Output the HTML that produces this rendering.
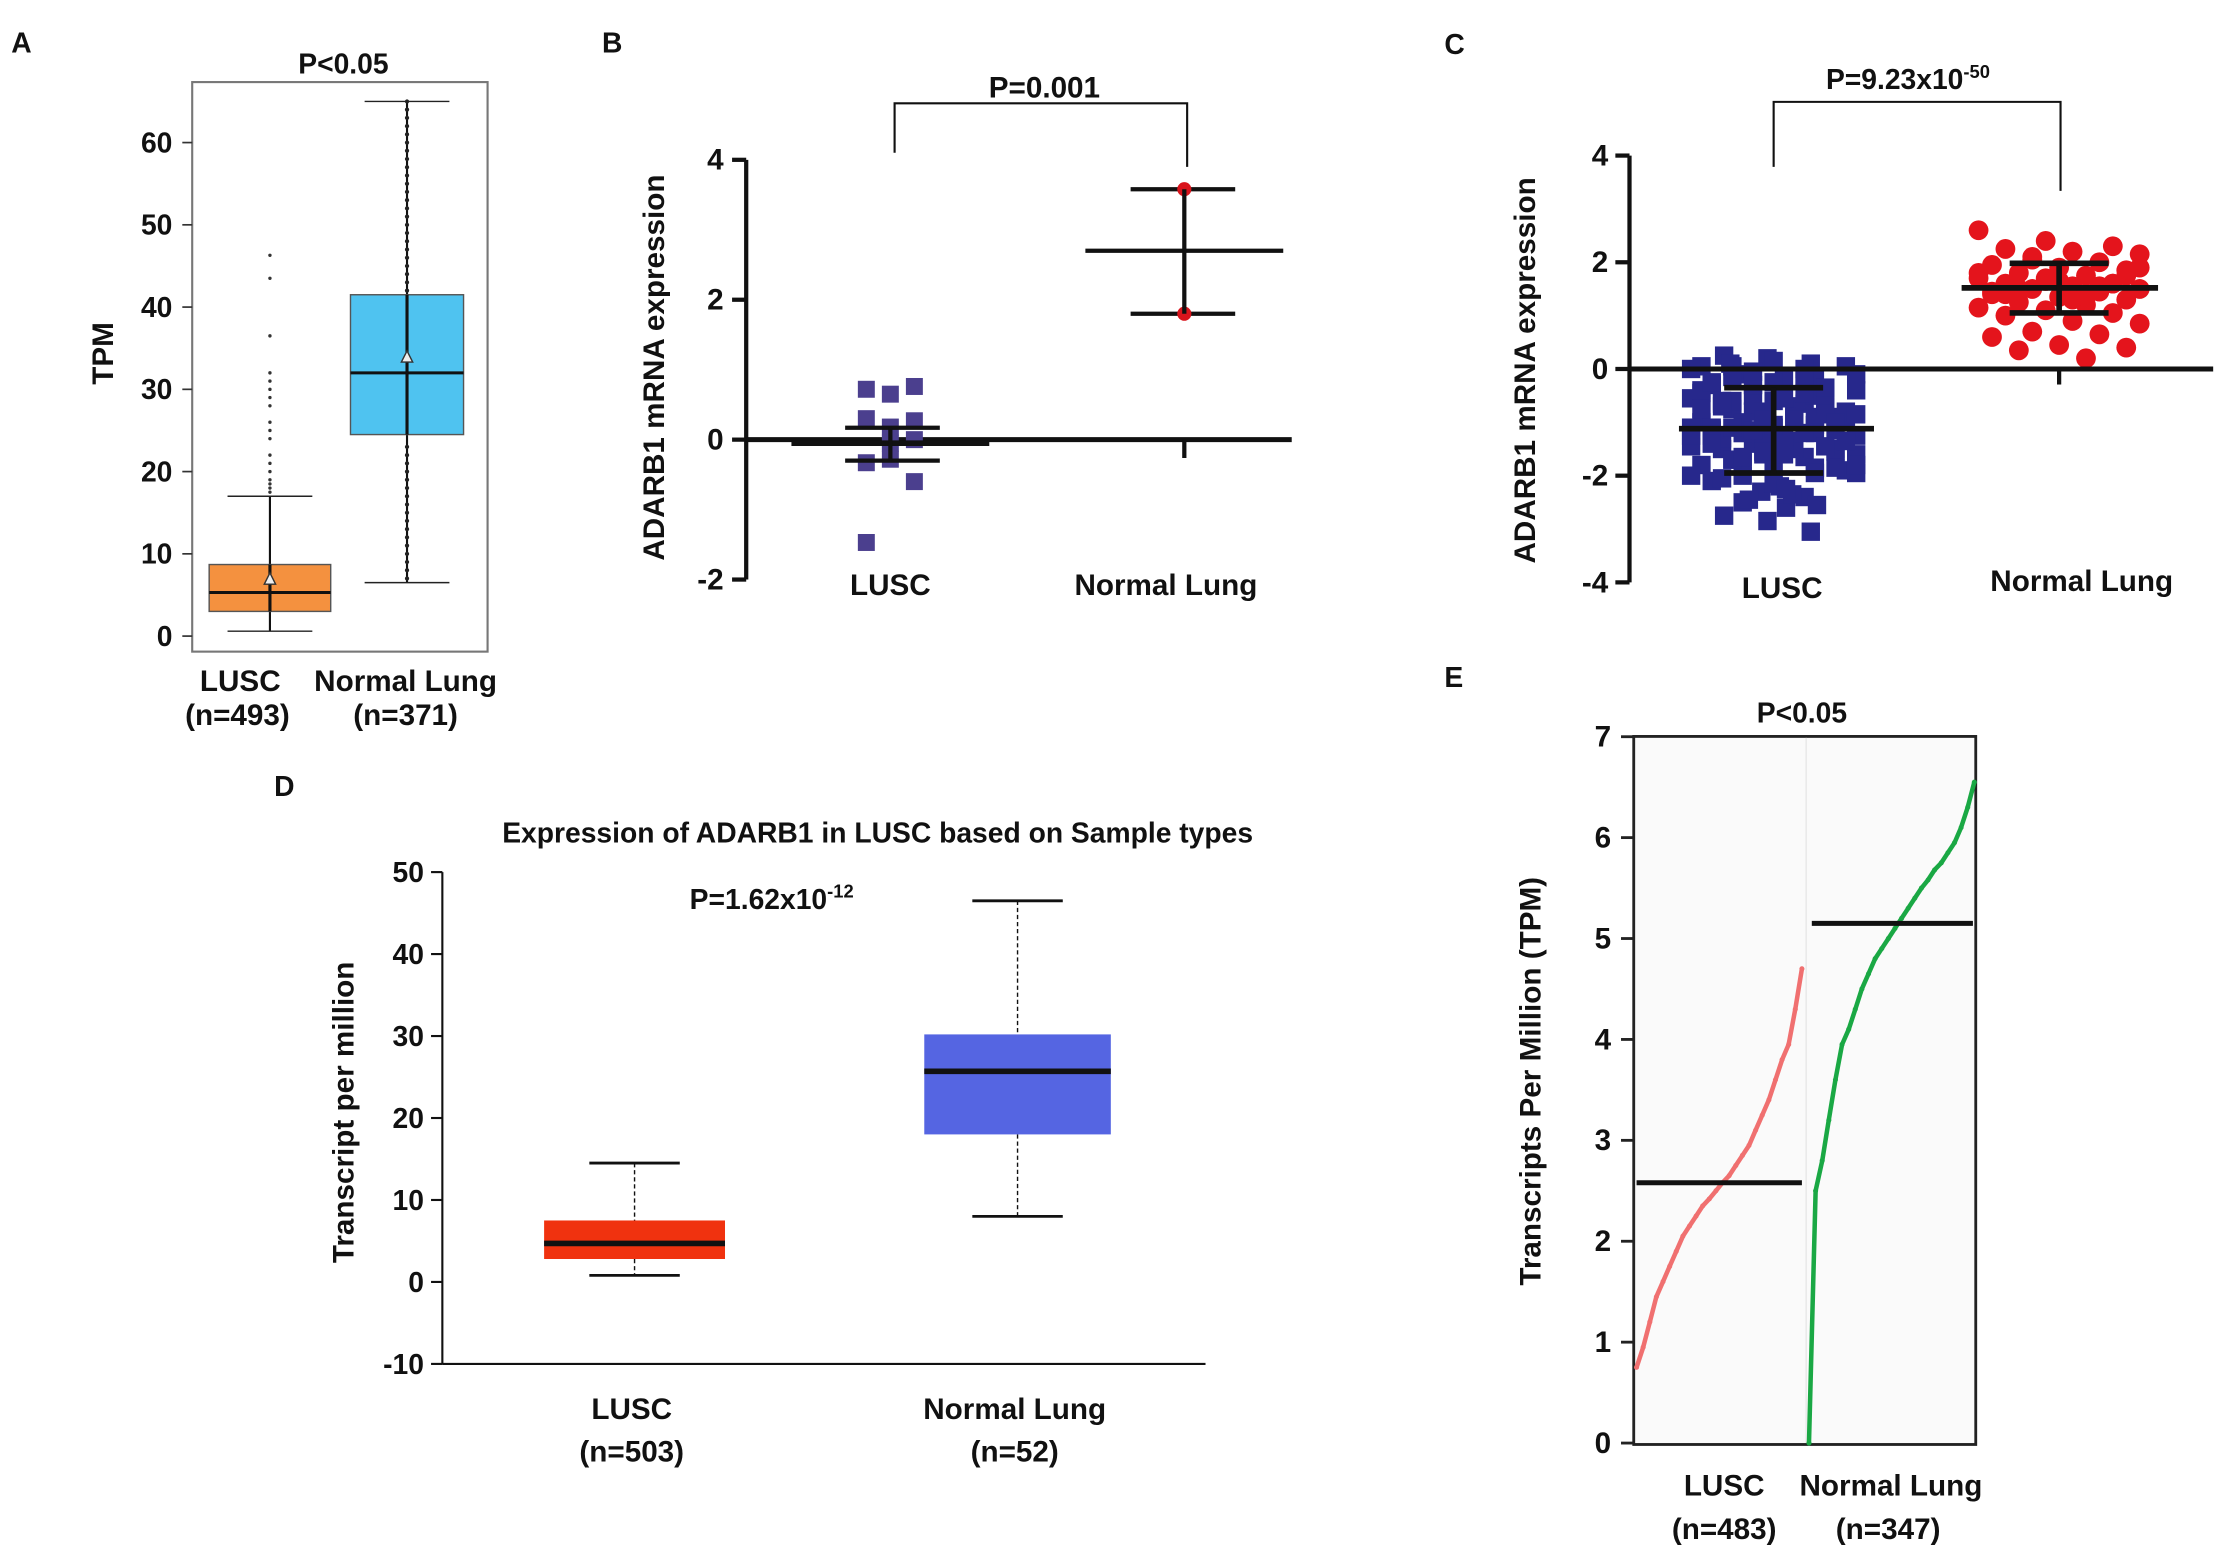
<!DOCTYPE html>
<html><head><meta charset="utf-8"><style>
html,body{margin:0;padding:0;background:#fff;}
svg{display:block;font-family:"Liberation Sans",Arial,sans-serif;font-weight:bold;}
</style></head><body>
<svg id="fig" width="2216" height="1552" viewBox="0 0 1568 1098" xmlns="http://www.w3.org/2000/svg"></svg>
<script>
// ---------- DATA ----------
// Panel A (TPM boxplot)
const aTicks = [0,10,20,30,40,50,60];
const aCats = ["LUSC","Normal Lung"];
const aN = ["(n=493)","(n=371)"];
const aQ1 = [3.0,24.5], aMed = [5.3,32.0], aQ3 = [8.7,41.5], aLo = [0.6,6.5], aHi = [17.0,65.0], aMean = [7.0,34.0];
const aOutLusc = [17.5,18,18.5,19,20,21,22,24,25,26,28,29,30,31,32,36.5,43.5,46.3];
const aOutNorm = [7,8,9,10,11,12,13,14,15,16,17,18,19,20,21,22,23,42,43,44,45,46,47,48,49,50,51,52,53,54,55,56,57,58,59,60,61,62,63,64,65];
// Panel B
const bTicks = [4,2,0,-2];
const bLusc = [0.72,0.65,0.76,0.3,0.18,0.27,-0.33,-0.05,-0.6,-1.47,-0.28,0.0];
const bLuscMean = -0.05, bLuscErr = [0.17,-0.3];
const bNormMean = 2.7, bNormErr = [3.58,1.8];
// Panel C
const cTicks = [4,2,0,-2,-4];
const cLusc = [0.25,0.2,0.1,0.05,0.0,0.1,0.15,0.05,-0.1,-0.2,-0.3,-0.15,-0.4,-0.5,-0.35,-0.6,-0.7,-0.55,-0.8,-0.9,-0.75,-0.65,-1.0,-1.1,-0.95,-1.2,-1.05,-1.15,-1.3,-1.25,-1.4,-0.85,-1.5,-1.35,-1.45,-1.6,-1.55,-1.7,-1.65,-1.8,-1.75,-1.9,-2.0,-1.85,-2.1,-2.2,-1.95,-2.3,-2.4,-2.5,-2.6,-2.75,-2.85,-3.05,-2.45,-2.35,-0.45,-0.25,-1.0,-1.2,-0.9,-1.1,-1.4,-1.6,-0.8,-0.7,-1.3,-1.5,-2.0,-1.05,-1.15,-0.6,-0.2,0.05,-2.15,-2.55,-1.75,-0.5,-1.25,-1.35,
 -0.1,-0.3,-0.5,-0.7,-0.9,-1.1,-1.3,-1.5,-1.7,-0.2,-0.4,-0.6,-0.8,-1.0,-1.2,-1.4,-1.6,-1.8,-0.05,-0.35,-0.65,-0.95,-1.25,-1.55,-1.85,-0.15,-0.45,-0.75,-1.05,-1.35,-1.65,-1.95,-0.25,-0.55,-0.85,-1.15,-1.45,-2.05,-2.25,-0.0,-0.95,-1.0,-1.1,-1.2];
const cNorm = [2.6,2.4,2.3,2.25,2.2,2.15,2.1,2.0,1.95,1.9,1.85,1.8,1.75,1.7,1.65,1.6,1.6,1.55,1.5,1.5,1.45,1.4,1.35,1.3,1.25,1.2,1.15,1.1,1.05,1.0,0.9,0.85,0.7,0.65,0.6,0.45,0.4,0.35,0.2,1.8,1.7,1.6,1.4,1.3,1.9,2.05,1.55,1.45,1.65,1.75,1.5,1.35];
const cLuscMean = -1.12, cLuscSD = [-0.35,-1.95];
const cNormMean = 1.52, cNormSD = [1.98,1.05];
// Panel D
const dTicks = [50,40,30,20,10,0,-10];
const dCats = ["LUSC","Normal Lung"];
const dN = ["(n=503)","(n=52)"];
const dQ1 = [2.8,18.0], dMed = [4.7,25.7], dQ3 = [7.5,30.2], dLo = [0.8,8.0], dHi = [14.5,46.5];
// Panel E (sorted sample quantiles)
const eTicks = [0,1,2,3,4,5,6,7];
const eLusc = [0.75,0.95,1.2,1.45,1.6,1.75,1.9,2.05,2.15,2.25,2.35,2.42,2.5,2.58,2.65,2.75,2.85,2.95,3.1,3.25,3.4,3.6,3.8,3.95,4.3,4.7];
const eNorm = [0.0,2.5,2.8,3.2,3.6,3.95,4.1,4.3,4.5,4.65,4.8,4.9,5.0,5.1,5.2,5.3,5.4,5.5,5.58,5.68,5.75,5.85,5.95,6.1,6.3,6.55];
const eMed = [2.58,5.15];

// ---------- HELPERS ----------
const NS="http://www.w3.org/2000/svg";
const svg=document.getElementById('fig');
function mk(tag,at,parent){const e=document.createElementNS(NS,tag);for(const k in at)e.setAttribute(k,at[k]);(parent||svg).appendChild(e);return e;}
function txt(x,y,s,size,anchor,parent,rot){const e=mk('text',{x:x,y:y,'font-size':size,'text-anchor':anchor||'middle',fill:'#111'},parent);if(rot)e.setAttribute('transform','rotate(-90 '+x+' '+y+')');e.textContent=s;return e;}
function ln(x1,y1,x2,y2,w,c,parent,dash){const e=mk('line',{x1:x1,y1:y1,x2:x2,y2:y2,stroke:c||'#111','stroke-width':w||2},parent);if(dash)e.setAttribute('stroke-dasharray',dash);return e;}
function grp(){return mk('g',{});}

// ---------- PANEL A ----------
(function(){
 const g=grp();
 
 
 const y=v=>450-v*5.82; const cx=[191,288], hw=[43,40];
 let t=txt(8,37,'A',20,'start',g);
 
 t=txt(243,52,'P<0.05',20,'middle',g);
 
 const fr=mk('rect',{x:136,y:58,width:209,height:403,fill:'none',stroke:'#777','stroke-width':1.5},g);
 
 aTicks.forEach(v=>{const l=ln(129,y(v),136,y(v),1.2,'#333',g);
  const tt=txt(122,y(v)+7,String(v),20,'end',g);});
 t=txt(80,250,'TPM',21,'middle',g,true);
 
 const fills=['#f4913f','#4fc3f0'];
 for(let i=0;i<2;i++){
  const w1=ln(cx[i],y(aLo[i]),cx[i],y(aHi[i]),1.5,'#111',g);
  const c1=ln(cx[i]-30,y(aHi[i]),cx[i]+30,y(aHi[i]),1,'#222',g);
  const c2=ln(cx[i]-30,y(aLo[i]),cx[i]+30,y(aLo[i]),1,'#222',g);
  const b=mk('rect',{x:cx[i]-hw[i],y:y(aQ3[i]),width:hw[i]*2,height:y(aQ1[i])-y(aQ3[i]),fill:fills[i],stroke:'#555','stroke-width':1},g);
  
  const m=ln(cx[i]-hw[i],y(aMed[i]),cx[i]+hw[i],y(aMed[i]),2.2,'#111',g);
  const v=ln(cx[i],y(aQ1[i]),cx[i],y(aQ3[i]),2.2,'#111',g);
  const my=y(aMean[i]);
  const tri=mk('polygon',{points:(cx[i]-4)+','+(my+4)+' '+(cx[i]+4)+','+(my+4)+' '+cx[i]+','+(my-4),fill:'#eee',stroke:'#333','stroke-width':1},g);
  
  const l1=txt(cx[i]-(i?1:21),489,aCats[i],21,'middle',g);
  const l2=txt(cx[i]-(i?1:23),513,aN[i],21,'middle',g);
 }
 aOutLusc.forEach(v=>{const d=mk('circle',{cx:cx[0],cy:y(v),r:1.2,fill:'#333'},g);});
 aOutNorm.forEach(v=>{const d=mk('circle',{cx:cx[1],cy:y(v),r:1.5,fill:'#222'},g);});
})();

// ---------- PANEL B ----------
(function(){
 const g=grp();
 
 
 const y=v=>311-v*49.5; const x0=630,x1=838;
 let t=txt(426,37,'B',20,'start',g);
 let a=ln(528,y(4),528,y(-2),3,'#111',g);
 a=ln(528,y(0),914,y(0),3.5,'#111',g);
 bTicks.forEach(v=>{const l=ln(518,y(v),528,y(v),3,'#111',g);
  const tt=txt(512,y(v)+7,String(v),21,'end',g);});
 t=txt(470,260,'ADARB1 mRNA expression',21,'middle',g,true);
 bLusc.forEach((v,i)=>{const r=mk('rect',{x:x0+((i%3)-1)*17-6,y:y(v)-6,width:12,height:12,fill:'#4b3f8e'},g);});
 let l=ln(560,y(bLuscMean),700,y(bLuscMean),4,'#111',g);
 bLuscErr.forEach(v=>{const e=ln(598,y(v),665,y(v),3,'#111',g);});
 l=ln(x0,y(bLuscErr[0]),x0,y(bLuscErr[1]),3,'#111',g);
 l=ln(768,y(bNormMean),908,y(bNormMean),3,'#111',g);
 bNormErr.forEach(v=>{const e=ln(800,y(v),874,y(v),3,'#111',g);
  const d=mk('circle',{cx:x1,cy:y(v),r:5,fill:'#d9141c'},g);});
 l=ln(x1,y(bNormErr[0]),x1,y(bNormErr[1]),3,'#111',g);
 l=ln(x1,y(0),x1,y(0)+13,3,'#111',g);
 const br=mk('polyline',{points:'633,108 633,73 840,73 840,118',fill:'none',stroke:'#111','stroke-width':1.5},g);
 t=txt(739,69,'P=0.001',21,'middle',g);
 t=txt(630,421,'LUSC',21,'middle',g);
 t=txt(825,421,'Normal Lung',21,'middle',g);
})();

// ---------- PANEL C ----------
(function(){
 const g=grp();
 
 
 const y=v=>261-v*37.75; const x0=1255,x1=1457;
 let t=txt(1022,38,'C',20,'start',g);
 let a=ln(1153,y(4),1153,y(-4),3,'#111',g);
 cTicks.forEach(v=>{const l=ln(1143,y(v),1153,y(v),3,'#111',g);
  const tt=txt(1138,y(v)+7,String(v),21,'end',g);});
 t=txt(1086,262,'ADARB1 mRNA expression',21,'middle',g,true);
 cLusc.forEach((v,i)=>{const spread=(v>-2.2&&v<0.1)?1:0.6;const jx=(((i*7)%17)-8)*7.3*spread;const r=mk('rect',{x:x0+jx-6.5,y:y(v)-6.5,width:13,height:13,fill:'#27288c'},g);});
 cNorm.forEach((v,i)=>{const jx=(((i*5)%13)-6)*9.5;const d=mk('circle',{cx:x1+jx,cy:y(v),r:7,fill:'#e4141c'},g);});
 a=ln(1153,y(0),1566,y(0),3.5,'#111',g);
 let l=ln(1188,y(cLuscMean),1326,y(cLuscMean),4,'#111',g);
 cLuscSD.forEach(v=>{const e=ln(1220,y(v),1290,y(v),4,'#111',g);});
 l=ln(x0,y(cLuscSD[0]),x0,y(cLuscSD[1]),4,'#111',g);
 l=ln(1388,y(cNormMean),1527,y(cNormMean),4,'#111',g);
 cNormSD.forEach(v=>{const e=ln(1422,y(v),1492,y(v),4,'#111',g);});
 l=ln(x1,y(cNormSD[0]),x1,y(cNormSD[1]),4,'#111',g);
 l=ln(x1,y(0),x1,y(0)+11,3,'#111',g);
 const br=mk('polyline',{points:'1255,118 1255,72 1458,72 1458,135',fill:'none',stroke:'#111','stroke-width':1.5},g);
 t=mk('text',{x:1292,y:63,'font-size':20,fill:'#111'},g);
 t.innerHTML='P=9.23x10<tspan dy="-8" font-size="13">-50</tspan>';
 t=txt(1261,423,'LUSC',21,'middle',g);
 t=txt(1473,418,'Normal Lung',21,'middle',g);
})();

// ---------- PANEL D ----------
(function(){
 const g=grp();
 
 
 const y=v=>907-v*5.8; const cx=[449,720], hw=[64,66];
 let t=txt(194,563,'D',20,'start',g);
 t=txt(621,596,'Expression of ADARB1 in LUSC based on Sample types',20,'middle',g);
 t=mk('text',{x:488,y:643,'font-size':20,fill:'#111'},g);
 t.innerHTML='P=1.62x10<tspan dy="-8" font-size="13">-12</tspan>';
 let a=ln(313,y(50),313,y(-10),1.5,'#111',g);
 a=ln(313,y(-10),853,y(-10),1.5,'#111',g);
 dTicks.forEach(v=>{const l=ln(305,y(v),313,y(v),1.5,'#111',g);
  const tt=txt(300,y(v)+7,String(v),20,'end',g);});
 t=txt(250,787,'Transcript per million',21,'middle',g,true);
 const fills=['#f0320f','#5565e2'];
 for(let i=0;i<2;i++){
  let w=ln(cx[i],y(dHi[i]),cx[i],y(dQ3[i]),1,'#111',g,'3,2');
  w=ln(cx[i],y(dQ1[i]),cx[i],y(dLo[i]),1,'#111',g,'3,2');
  w=ln(cx[i]-32,y(dHi[i]),cx[i]+32,y(dHi[i]),2,'#111',g);
  w=ln(cx[i]-32,y(dLo[i]),cx[i]+32,y(dLo[i]),2,'#111',g);
  const b=mk('rect',{x:cx[i]-hw[i],y:y(dQ3[i]),width:hw[i]*2,height:y(dQ1[i])-y(dQ3[i]),fill:fills[i]},g);
  const m=ln(cx[i]-hw[i],y(dMed[i]),cx[i]+hw[i],y(dMed[i]),4,'#111',g);
  let l1=txt(cx[i]-2,1004,dCats[i],21,'middle',g);
  l1=txt(cx[i]-2,1034,dN[i],21,'middle',g);
 }
})();

// ---------- PANEL E ----------
(function(){
 const g=grp();
 
 
 const y=v=>1021-v*71.4; const xs=[1158,1280], xw=117;
 let t=txt(1022,486,'E',20,'start',g);
 t=txt(1275,511,'P<0.05',20,'middle',g);
 let r=mk('rect',{x:1156,y:521,width:242,height:501,fill:'#fafafa',stroke:'#222','stroke-width':2},g);
 let l=ln(1278,522,1278,1021,1,'#e8e8e8',g);
 eTicks.forEach(v=>{const k=ln(1147,y(v),1156,y(v),2,'#222',g);
  const tt=txt(1140,y(v)+7,String(v),21,'end',g);});
 t=txt(1090,765,'Transcripts Per Million (TPM)',21,'middle',g,true);
 const series=[eLusc,eNorm], cols=['#f07070','#1aa844'];
 series.forEach((arr,si)=>{
  const pts=arr.map((v,i)=>(xs[si]+i/(arr.length-1)*xw).toFixed(1)+','+y(v).toFixed(1)).join(' ');
  const p=mk('polyline',{points:pts,fill:'none',stroke:cols[si],'stroke-width':3.2},g);
  
  arr.forEach((v,i)=>{const d=mk('circle',{cx:xs[si]+i/(arr.length-1)*xw,cy:y(v),r:1.8,fill:cols[si]},g);});
 });
 l=ln(1158,y(eMed[0]),1275,y(eMed[0]),3.5,'#111',g);
 l=ln(1282,y(eMed[1]),1396,y(eMed[1]),3.5,'#111',g);
 t=txt(1220,1058,'LUSC',21,'middle',g);
 t=txt(1220,1089,'(n=483)',21,'middle',g);
 t=txt(1338,1058,'Normal Lung',21,'middle',g);
 t=txt(1336,1089,'(n=347)',21,'middle',g);
})();
</script>
</body></html>
